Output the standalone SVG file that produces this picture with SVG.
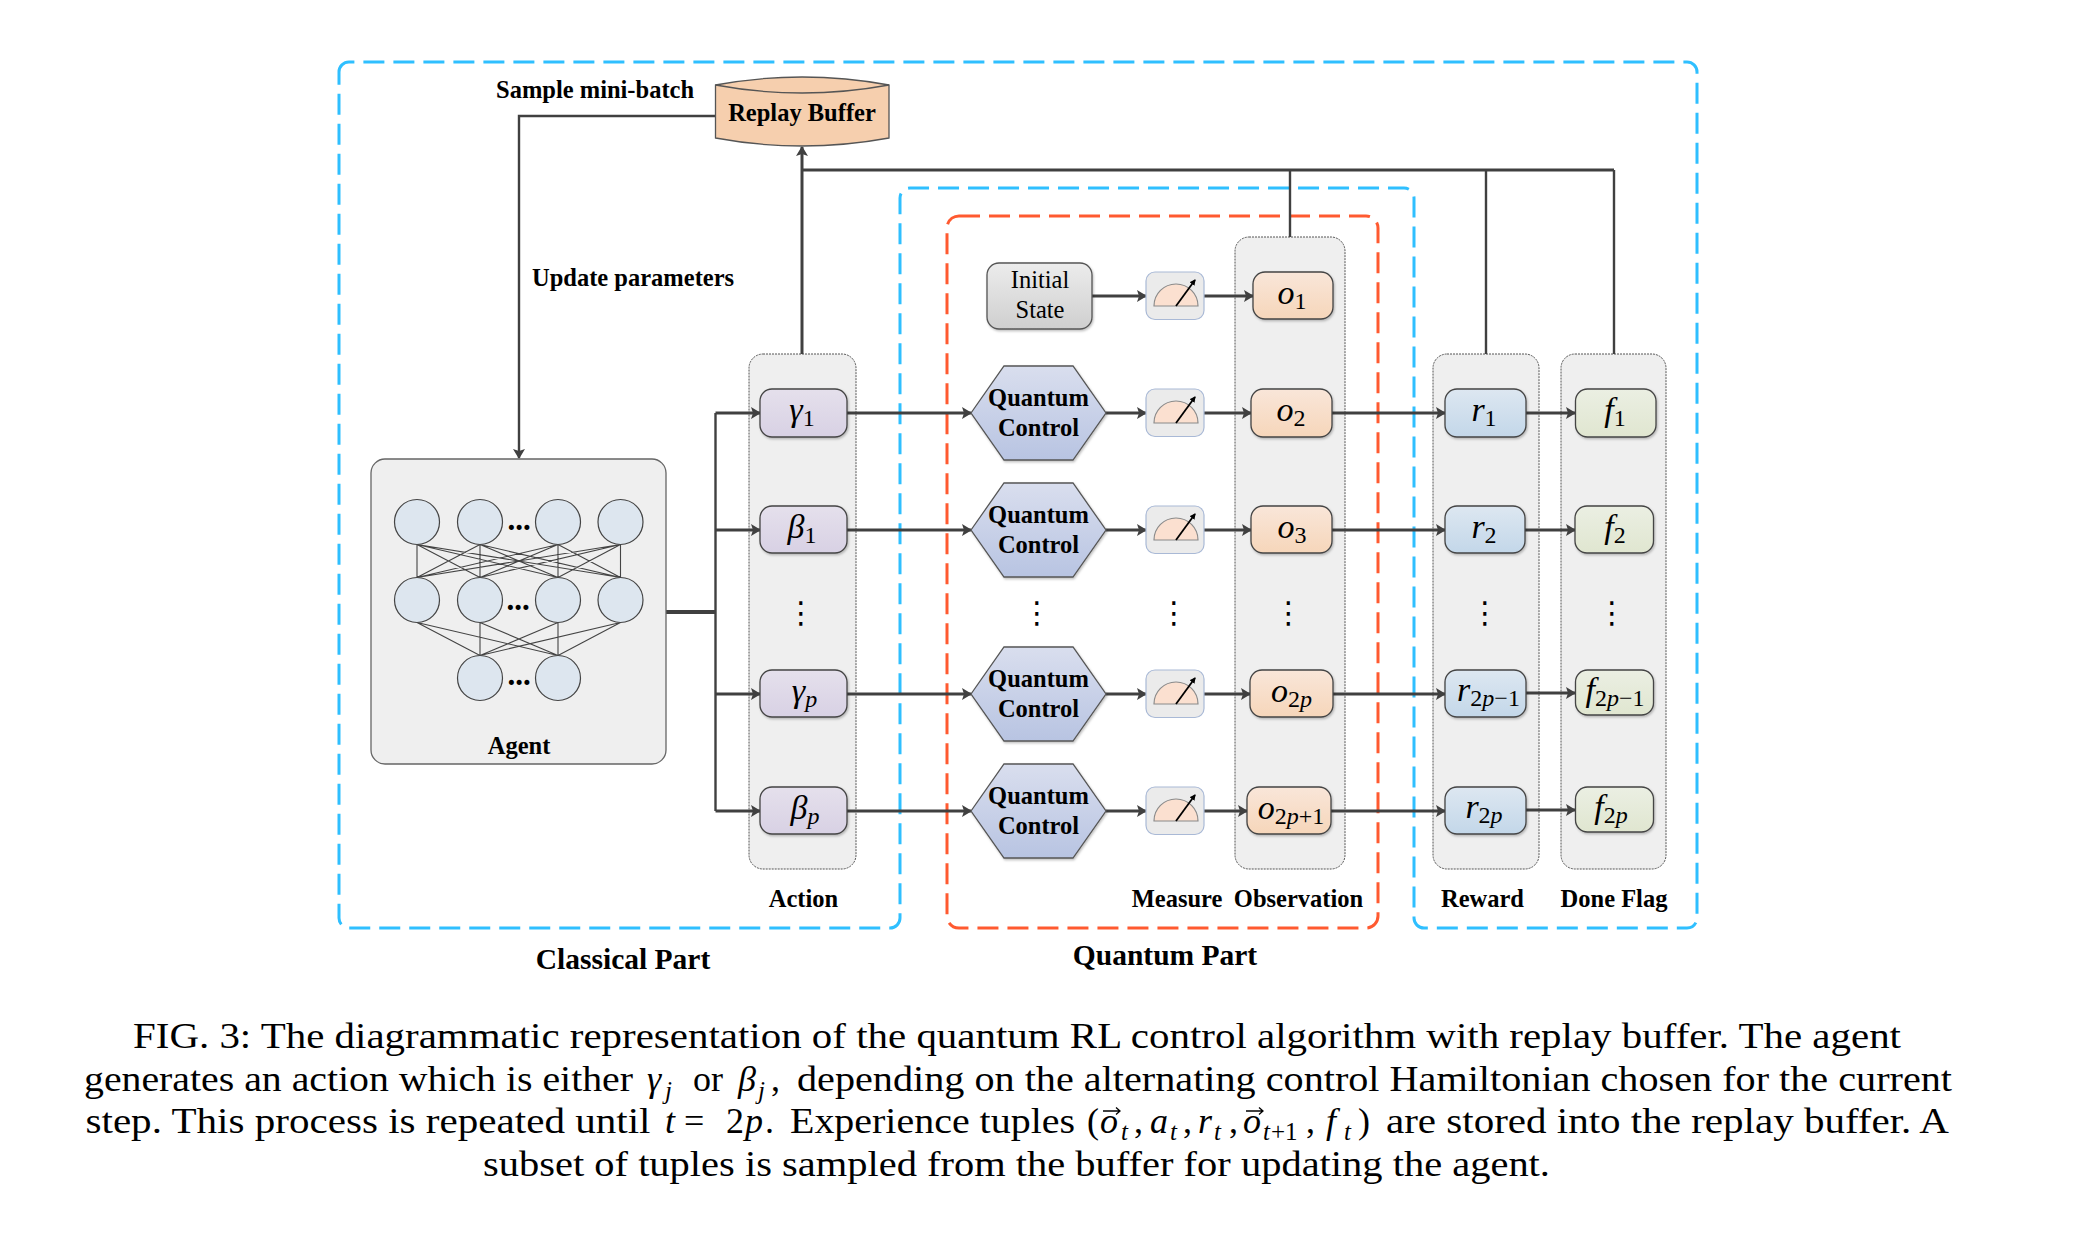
<svg xmlns="http://www.w3.org/2000/svg" width="2078" height="1240" viewBox="0 0 2078 1240">
<style>
text{font-family:"Liberation Serif","Times New Roman",serif;fill:#000}
.b{font-weight:700;font-size:24.5px}
.c{text-anchor:middle}
.r{font-size:24.5px}
.pt{font-weight:700;font-size:29.5px}
.m{font-size:34px;font-style:italic;text-anchor:middle}
.s{font-size:24px;font-style:normal}
.si{font-size:24px;font-style:italic}
.cap{font-size:36px}
.capi{font-size:36px;font-style:italic}
.capsub{font-size:25px;font-style:italic}
.capsubr{font-size:25px;font-style:normal}
.col{fill:#efefef;stroke:#555;stroke-width:1;stroke-dasharray:2 1}
.n{stroke:#444;stroke-width:1.3;filter:url(#sh)}
.act{fill:url(#gAct)}.obs{fill:url(#gObs)}.rew{fill:url(#gRew)}.don{fill:url(#gDon)}
.hex{fill:url(#gHex);stroke:#555;stroke-width:1.3;filter:url(#sh)}
.nn{fill:#dde6ef;stroke:#444;stroke-width:1.2}
.ed{stroke:#444;stroke-width:1.1;fill:none}
.ln{stroke:#404040;stroke-width:3;fill:none}
.ar{stroke:#404040;stroke-width:3;fill:none;marker-end:url(#ah)}
.lnt{stroke:#404040;stroke-width:2.4;fill:none}
.dash{fill:none;stroke-width:3;stroke-dasharray:21 9}
.vd{font-family:"DejaVu Sans",sans-serif;font-size:30px;text-anchor:middle}
.dots{font-weight:700;font-size:31px;text-anchor:middle}
.vec{stroke:#000;stroke-width:1.3;fill:none}
</style>
<defs>
<marker id="ah" markerUnits="userSpaceOnUse" markerWidth="10" markerHeight="12" refX="9" refY="6" orient="auto"><path d="M0 0L10 6L0 12L2 6Z" fill="#404040"/></marker>
<marker id="ah2" markerUnits="userSpaceOnUse" markerWidth="6" markerHeight="6" refX="5" refY="3" orient="auto"><path d="M0 0L6 3L0 6Z" fill="#000"/></marker>
<linearGradient id="gAct" x1="0" y1="0" x2="0" y2="1"><stop offset="0" stop-color="#e5e0ec"/><stop offset="1" stop-color="#d8d1e4"/></linearGradient>
<linearGradient id="gObs" x1="0" y1="0" x2="0" y2="1"><stop offset="0" stop-color="#f9e6d9"/><stop offset="1" stop-color="#f6d6ba"/></linearGradient>
<linearGradient id="gRew" x1="0" y1="0" x2="0" y2="1"><stop offset="0" stop-color="#dde7f1"/><stop offset="1" stop-color="#c3d7e9"/></linearGradient>
<linearGradient id="gDon" x1="0" y1="0" x2="0" y2="1"><stop offset="0" stop-color="#ebefe3"/><stop offset="1" stop-color="#e0e6d0"/></linearGradient>
<linearGradient id="gHex" x1="0" y1="0" x2="0" y2="1"><stop offset="0" stop-color="#d9deee"/><stop offset="1" stop-color="#b8c4e2"/></linearGradient>
<linearGradient id="gIni" x1="0" y1="0" x2="0" y2="1"><stop offset="0" stop-color="#ececec"/><stop offset="1" stop-color="#cfcfcf"/></linearGradient>
<filter id="sh" x="-10%" y="-10%" width="120%" height="125%"><feDropShadow dx="1" dy="1.5" stdDeviation="1.2" flood-color="#000" flood-opacity=".25"/></filter>
<g id="meter">
<rect x="-29" y="-24" width="58" height="47.5" rx="9" fill="#ebebeb" stroke="#a9b9d6" stroke-width="1.2"/>
<path d="M-21 10A22 22 0 0 1 23 10Z" fill="#fbe0d0" stroke="#8a8a8a" stroke-width="1.2"/>
<path d="M1 10L20 -16" stroke="#000" stroke-width="1.8" fill="none" marker-end="url(#ah2)"/>
</g>
<polygon id="hexa" points="971,0 1004,-47 1073,-47 1106,0 1073,47 1004,47"/>
<path id="vecm" class="vec" d="M0 0H17M13 -3.5L17 0L13 3.5"/>
</defs>
<rect width="2078" height="1240" fill="#fff"/>

<g id="regions">
<path class="dash" stroke="#2fbfff" d="M339 72A10 10 0 0 1 349 62H1687A10 10 0 0 1 1697 72V918A10 10 0 0 1 1687 928H1424A10 10 0 0 1 1414 918V198A10 10 0 0 0 1404 188H910A10 10 0 0 0 900 198V918A10 10 0 0 1 890 928H349A10 10 0 0 1 339 918Z"/>
<rect class="dash" x="947" y="216" width="431" height="712" rx="12" stroke="#ff5a30"/>
</g>

<g id="col-action"><rect class="col" x="749" y="354" width="107" height="515" rx="14"/><text class="b c" x="803.5" y="907">Action</text></g>
<g id="col-observation"><rect class="col" x="1235" y="237" width="110" height="632" rx="14"/><text class="b c" x="1298.5" y="907">Observation</text></g>
<g id="col-reward"><rect class="col" x="1433" y="354" width="106" height="515" rx="14"/><text class="b c" x="1482.5" y="907">Reward</text></g>
<g id="col-done"><rect class="col" x="1561" y="354" width="105" height="515" rx="14"/><text class="b c" x="1614" y="907">Done Flag</text></g>

<g id="connectors">
<path class="lnt" d="M715 116H519V458" marker-end="url(#ah)"/>
<path class="ln" d="M802 354V147" marker-end="url(#ah)"/>
<path class="ln" d="M802 170H1614"/>
<path class="lnt" d="M1290 170V237M1486 170V354M1614 170V354"/>
<path d="M666 612H715.5" stroke="#404040" stroke-width="4" fill="none"/>
<path class="lnt" d="M715.5 413V811"/>
<path class="ar" d="M715.5 413H760"/><path class="ar" d="M715.5 530H760"/><path class="ar" d="M715.5 694H760"/><path class="ar" d="M715.5 811H760"/>
<path class="ar" d="M847 413H971"/><path class="ar" d="M847 530H971"/><path class="ar" d="M847 694H971"/><path class="ar" d="M847 811H971"/>
<path class="ar" d="M1092 296H1146"/><path class="ar" d="M1106 413H1146"/><path class="ar" d="M1106 530H1146"/><path class="ar" d="M1106 694H1146"/><path class="ar" d="M1106 811H1146"/>
<path class="ar" d="M1204 296H1253"/><path class="ar" d="M1204 413H1251"/><path class="ar" d="M1204 530H1251"/><path class="ar" d="M1204 694H1250"/><path class="ar" d="M1204 811H1247"/>
<path class="ar" d="M1332 413H1445"/><path class="ar" d="M1332 530H1445"/><path class="ar" d="M1333 694H1445"/><path class="ar" d="M1331 811H1445"/>
<path class="ar" d="M1526 413H1575"/><path class="ar" d="M1525 530H1575"/><path class="ar" d="M1526 693H1575"/><path class="ar" d="M1526 810H1575"/>
</g>

<g id="replay-buffer">
<path d="M715.5 85Q802 69 889 85V138Q802 154 715.5 138Z" fill="#f6cfae" stroke="#555" stroke-width="1.3"/>
<path d="M715.5 85Q802 101 889 85" fill="none" stroke="#555" stroke-width="1.3"/>
<text class="b c" x="802" y="121">Replay Buffer</text>
</g>
<text class="b" x="496" y="98">Sample mini-batch</text>
<text class="b" x="532" y="286">Update parameters</text>

<g id="agent">
<rect x="371" y="459" width="295" height="305" rx="14" fill="#efefef" stroke="#666" stroke-width="1.3"/>
<path class="ed" d="M417 544.5V577.5M417 544.5L480 577.5M417 544.5L558 577.5M417 544.5L620.5 577.5M480 544.5L417 577.5M480 544.5V577.5M480 544.5L558 577.5M480 544.5L620.5 577.5M558 544.5L417 577.5M558 544.5L480 577.5M558 544.5V577.5M558 544.5L620.5 577.5M620.5 544.5L417 577.5M620.5 544.5L480 577.5M620.5 544.5L558 577.5M620.5 544.5V577.5"/>
<path class="ed" d="M417 622.5L480 655.5M417 622.5L558 655.5M480 622.5V655.5M480 622.5L558 655.5M558 622.5L480 655.5M558 622.5V655.5M620.5 622.5L480 655.5M620.5 622.5L558 655.5"/>
<circle class="nn" cx="417" cy="522" r="22.5"/><circle class="nn" cx="480" cy="522" r="22.5"/><circle class="nn" cx="558" cy="522" r="22.5"/><circle class="nn" cx="620.5" cy="522" r="22.5"/>
<circle class="nn" cx="417" cy="600" r="22.5"/><circle class="nn" cx="480" cy="600" r="22.5"/><circle class="nn" cx="558" cy="600" r="22.5"/><circle class="nn" cx="620.5" cy="600" r="22.5"/>
<circle class="nn" cx="480" cy="678" r="22.5"/><circle class="nn" cx="558" cy="678" r="22.5"/>
<text class="dots" x="519" y="530">...</text>
<text class="dots" x="518" y="610">...</text>
<text class="dots" x="519" y="685">...</text>
<text class="b c" x="519" y="754">Agent</text>
</g>

<g id="action-1"><rect class="n act" x="760" y="389" width="87" height="48" rx="12"/><text class="m" x="802" y="421">γ<tspan class="s" dy="5">1</tspan></text></g>
<g id="action-2"><rect class="n act" x="760" y="506" width="87" height="47" rx="12"/><text class="m" x="802" y="538">β<tspan class="s" dy="5">1</tspan></text></g>
<g id="action-3"><rect class="n act" x="760" y="670" width="87" height="47" rx="12"/><text class="m" x="804.5" y="702">γ<tspan class="si" dy="5">p</tspan></text></g>
<g id="action-4"><rect class="n act" x="760" y="787" width="87" height="47" rx="12"/><text class="m" x="805" y="819">β<tspan class="si" dy="5">p</tspan></text></g>

<g id="initial-state"><rect x="987" y="263" width="105" height="66" rx="12" fill="url(#gIni)" stroke="#555" stroke-width="1.3" style="filter:url(#sh)"/><text class="r c" x="1040" y="288">Initial</text><text class="r c" x="1040" y="318">State</text></g>

<g id="control-1"><use href="#hexa" y="413" class="hex"/><text class="b c" x="1038.5" y="406">Quantum</text><text class="b c" x="1038.5" y="436">Control</text></g>
<g id="control-2"><use href="#hexa" y="530" class="hex"/><text class="b c" x="1038.5" y="523">Quantum</text><text class="b c" x="1038.5" y="553">Control</text></g>
<g id="control-3"><use href="#hexa" y="694" class="hex"/><text class="b c" x="1038.5" y="687">Quantum</text><text class="b c" x="1038.5" y="717">Control</text></g>
<g id="control-4"><use href="#hexa" y="811" class="hex"/><text class="b c" x="1038.5" y="804">Quantum</text><text class="b c" x="1038.5" y="834">Control</text></g>

<g id="measure-0"><use href="#meter" x="1175" y="296"/></g>
<g id="measure-1"><use href="#meter" x="1175" y="413"/></g>
<g id="measure-2"><use href="#meter" x="1175" y="530"/></g>
<g id="measure-3"><use href="#meter" x="1175" y="694"/></g>
<g id="measure-4"><use href="#meter" x="1175" y="811"/></g>
<text class="b c" x="1177" y="907">Measure</text>

<g id="obs-1"><rect class="n obs" x="1253" y="272" width="80" height="47" rx="12"/><text class="m" x="1292" y="304">o<tspan class="s" dy="5">1</tspan></text></g>
<g id="obs-2"><rect class="n obs" x="1251" y="389" width="81" height="48" rx="12"/><text class="m" x="1291" y="421">o<tspan class="s" dy="5">2</tspan></text></g>
<g id="obs-3"><rect class="n obs" x="1251" y="506" width="81" height="47" rx="12"/><text class="m" x="1292" y="538">o<tspan class="s" dy="5">3</tspan></text></g>
<g id="obs-4"><rect class="n obs" x="1250" y="670" width="83" height="47" rx="12"/><text class="m" x="1291.5" y="702">o<tspan class="s" dy="5">2</tspan><tspan class="si">p</tspan></text></g>
<g id="obs-5"><rect class="n obs" x="1247" y="787" width="84" height="47" rx="12"/><text class="m" x="1291" y="819">o<tspan class="s" dy="5">2</tspan><tspan class="si">p</tspan><tspan class="s">+1</tspan></text></g>

<g id="rew-1"><rect class="n rew" x="1445" y="389" width="81" height="48" rx="12"/><text class="m" x="1484" y="421">r<tspan class="s" dy="5">1</tspan></text></g>
<g id="rew-2"><rect class="n rew" x="1445" y="506" width="80" height="47" rx="12"/><text class="m" x="1484" y="538">r<tspan class="s" dy="5">2</tspan></text></g>
<g id="rew-3"><rect class="n rew" x="1445" y="670" width="81" height="47" rx="12"/><text class="m" x="1488.5" y="701">r<tspan class="s" dy="5">2</tspan><tspan class="si">p</tspan><tspan class="s">−1</tspan></text></g>
<g id="rew-4"><rect class="n rew" x="1445" y="787" width="81" height="47" rx="12"/><text class="m" x="1484" y="818">r<tspan class="s" dy="5">2</tspan><tspan class="si">p</tspan></text></g>

<g id="done-1"><rect class="n don" x="1575.5" y="389" width="80.5" height="48" rx="12"/><text class="m" x="1615" y="421">f<tspan class="s" dy="5">1</tspan></text></g>
<g id="done-2"><rect class="n don" x="1575" y="506" width="78.5" height="47" rx="12"/><text class="m" x="1615" y="538">f<tspan class="s" dy="5">2</tspan></text></g>
<g id="done-3"><rect class="n don" x="1575.5" y="670" width="78" height="45" rx="12"/><text class="m" x="1615" y="701">f<tspan class="s" dy="5">2</tspan><tspan class="si">p</tspan><tspan class="s">−1</tspan></text></g>
<g id="done-4"><rect class="n don" x="1575.5" y="787" width="78" height="45" rx="12"/><text class="m" x="1611" y="818">f<tspan class="s" dy="5">2</tspan><tspan class="si">p</tspan></text></g>

<g id="ellipsis">
<text class="vd" x="801" y="623">⋮</text><text class="vd" x="1037" y="623">⋮</text><text class="vd" x="1174" y="623">⋮</text><text class="vd" x="1288.5" y="623">⋮</text><text class="vd" x="1485" y="623">⋮</text><text class="vd" x="1612" y="623">⋮</text>
</g>

<text class="pt c" x="623" y="969">Classical Part</text>
<text class="pt c" x="1165" y="965">Quantum Part</text>

<g id="caption">
<text class="cap" x="133" y="1048" textLength="1768" lengthAdjust="spacingAndGlyphs">FIG. 3: The diagrammatic representation of the quantum RL control algorithm with replay buffer. The agent</text>
<text class="cap" y="1091"><tspan x="84" textLength="549" lengthAdjust="spacingAndGlyphs">generates an action which is either</tspan> <tspan class="capi" x="647">γ</tspan><tspan class="capsub" x="665" y="1099">j</tspan> <tspan x="693" y="1091">or</tspan> <tspan class="capi" x="738">β</tspan><tspan class="capsub" x="758" y="1099">j</tspan><tspan x="771" y="1091">,</tspan></text>
<text class="cap" x="797" y="1091" textLength="1155" lengthAdjust="spacingAndGlyphs">depending on the alternating control Hamiltonian chosen for the current</text>
<text class="cap" y="1133"><tspan x="85.5" textLength="565" lengthAdjust="spacingAndGlyphs">step. This process is repeated until</tspan> <tspan class="capi" x="665">t</tspan> <tspan x="684">=</tspan> <tspan x="726">2</tspan><tspan class="capi" x="745">p</tspan><tspan x="765">.</tspan></text>
<text class="cap" x="790" y="1133" textLength="285" lengthAdjust="spacingAndGlyphs">Experience tuples</text>
<text class="cap" y="1133"><tspan x="1087">(</tspan><tspan class="capi" x="1100">o</tspan><tspan class="capsub" x="1121" y="1140">t</tspan><tspan x="1134" y="1133">,</tspan> <tspan class="capi" x="1150">a</tspan><tspan class="capsub" x="1170" y="1140">t</tspan><tspan x="1183" y="1133">,</tspan> <tspan class="capi" x="1198">r</tspan><tspan class="capsub" x="1214" y="1140">t</tspan><tspan x="1229" y="1133">,</tspan> <tspan class="capi" x="1243">o</tspan><tspan class="capsub" x="1263" y="1140">t</tspan><tspan class="capsubr" x="1271">+1</tspan><tspan x="1306" y="1133">,</tspan> <tspan class="capi" x="1326">f</tspan><tspan class="capsub" x="1344" y="1140">t</tspan><tspan x="1358" y="1133">)</tspan></text>
<use href="#vecm" x="1103" y="1111"/><use href="#vecm" x="1246" y="1111"/>
<text class="cap" x="1386" y="1133" textLength="563" lengthAdjust="spacingAndGlyphs">are stored into the replay buffer. A</text>
<text class="cap" x="483" y="1176" textLength="1067" lengthAdjust="spacingAndGlyphs">subset of tuples is sampled from the buffer for updating the agent.</text>
</g>
</svg>
